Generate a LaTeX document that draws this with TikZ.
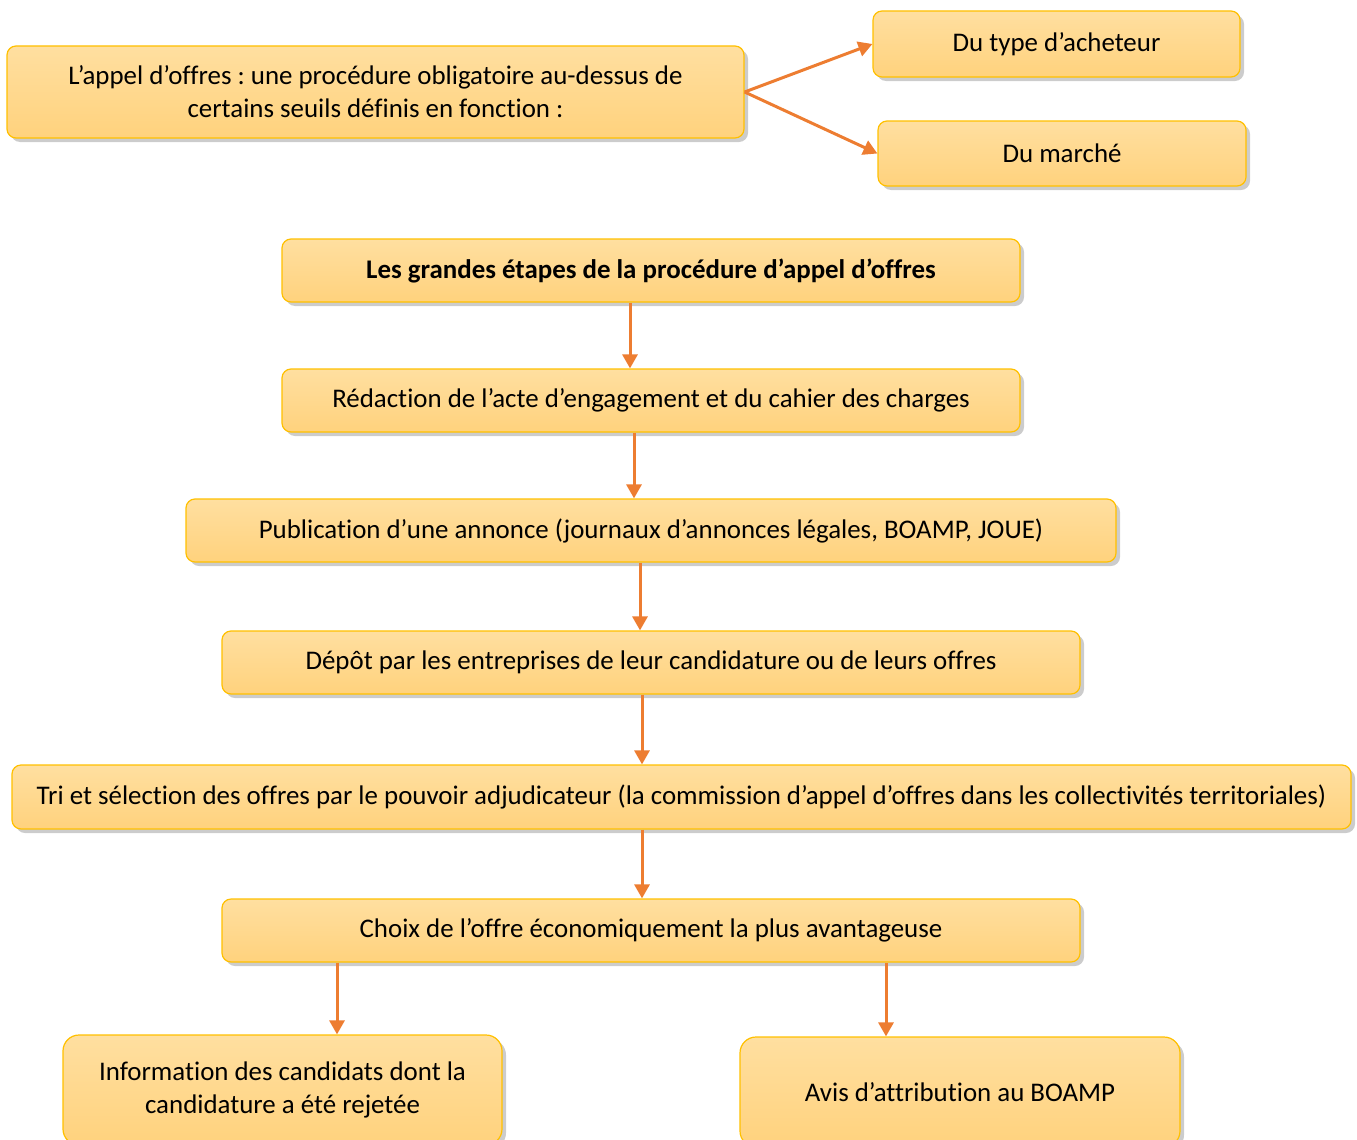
\documentclass[tikz,border=0pt]{standalone}
\usepackage{fontspec}
\setmainfont{Carlito}[Ligatures=NoCommon]
\usetikzlibrary{shadows,arrows.meta}
\definecolor{cadre}{HTML}{FFC000}
\definecolor{fondhaut}{HTML}{FFDFA0}
\definecolor{fondbas}{HTML}{FFD27D}
\definecolor{fleorange}{HTML}{ED7D31}
\frenchspacing

\begin{document}
\begin{tikzpicture}[
  x=1pt, y=-1pt,
  boite/.style={draw=cadre, line width=1.2pt, rounded corners=9pt,
    top color=fondhaut, bottom color=fondbas, align=center,
    inner sep=0pt, font=\fontsize{26.9}{33}\selectfont,
    drop shadow={shadow xshift=4pt, shadow yshift=-4pt,
      fill=black, opacity=0.2}},
  fleche/.style={draw=fleorange, line width=3pt,
    -{Triangle[length=14pt,width=15pt]}},
  ]
  \useasboundingbox (0,0) rectangle (1357,1140);
  \clip (0,0) rectangle (1357,1140);
  % Seuils
  \node[boite, minimum width=737pt, minimum height=92pt] (appel)
    at (375.5,92) {L’appel d’offres : une procédure obligatoire au-dessus de\\
    certains seuils définis en fonction :};
  \node[boite, minimum width=367pt, minimum height=66pt] (acheteur)
    at (1056.5,44) {Du type d’acheteur};
  \node[boite, minimum width=368pt, minimum height=65pt] (marche)
    at (1062,153.5) {Du marché};
  \draw[fleche] (appel.east) -- (acheteur.west);
  \draw[fleche] (appel.east) -- (marche.west);
  % Etapes
  \node[boite, minimum width=738pt, minimum height=63pt] (etapes)
    at (651,270.5) {\textbf{Les grandes étapes de la procédure d’appel d’offres}};
  \node[boite, minimum width=738pt, minimum height=63pt] (redaction)
    at (651,400.5) {Rédaction de l’acte d’engagement et du cahier des charges};
  \node[boite, minimum width=930pt, minimum height=63pt] (publication)
    at (651,530.5) {Publication d’une annonce (journaux d’annonces légales, BOAMP, JOUE)};
  \node[boite, minimum width=858pt, minimum height=63pt] (depot)
    at (651,662.5) {Dépôt par les entreprises de leur candidature ou de leurs offres};
  \node[boite, minimum width=1339pt, minimum height=64pt] (tri)
    at (681.5,797) {Tri et sélection des offres par le pouvoir adjudicateur (la commission d’appel d’offres dans les collectivités territoriales)};
  \node[boite, minimum width=858pt, minimum height=63pt] (choix)
    at (651,930.5) {Choix de l’offre économiquement la plus avantageuse};
  \node[boite, rounded corners=16pt, minimum width=439pt,
    minimum height=110pt] (information)
    at (282.5,1090) {Information des candidats dont la\\
    candidature a été rejetée};
  \node[boite, rounded corners=16pt, minimum width=440pt,
    minimum height=110pt] (avis)
    at (960,1092) {Avis d’attribution au BOAMP};
  % Fleches verticales
  \draw[fleche] (etapes.south -| 630,0) -- (redaction.north -| 630,0);
  \draw[fleche] (redaction.south -| 634,0) -- (publication.north -| 634,0);
  \draw[fleche] (publication.south -| 640,0) -- (depot.north -| 640,0);
  \draw[fleche] (depot.south -| 642,0) -- (tri.north -| 642,0);
  \draw[fleche] (tri.south -| 642,0) -- (choix.north -| 642,0);
  \draw[fleche] (choix.south -| 337,0) -- (information.north -| 337,0);
  \draw[fleche] (choix.south -| 886,0) -- (avis.north -| 886,0);
\end{tikzpicture}
\end{document}
